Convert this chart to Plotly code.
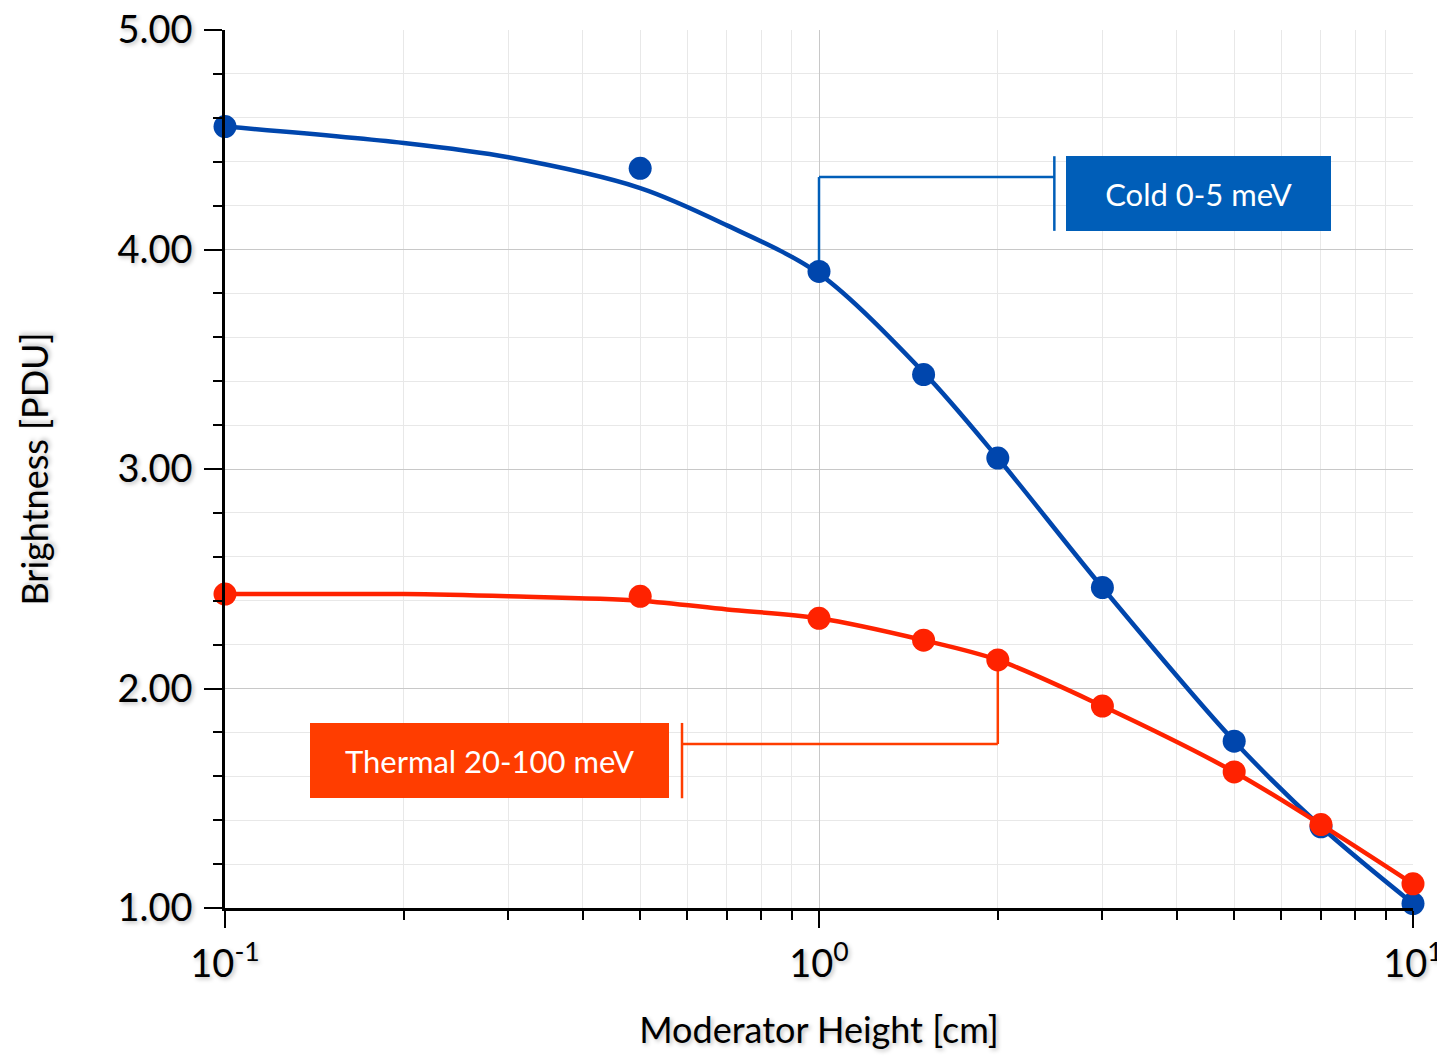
import plotly.graph_objects as go

# ---- data ----
HEIGHT_CM = [0.1, 0.5, 1, 1.5, 2, 3, 5, 7, 10]
COLD = [4.56, 4.37, 3.90, 3.43, 3.05, 2.46, 1.76, 1.37, 1.02]
THERMAL = [2.43, 2.42, 2.32, 2.22, 2.13, 1.92, 1.62, 1.38, 1.11]

# fitted curves
FIT_X = [0.1, 0.2, 0.3, 0.5, 0.7, 1, 1.5, 2, 3, 5, 7, 10]
COLD_FIT = [4.56, 4.485, 4.42, 4.28, 4.11, 3.89, 3.44, 3.05, 2.46, 1.76, 1.37, 1.02]
THERMAL_FIT = [2.43, 2.43, 2.42, 2.40, 2.36, 2.32, 2.22, 2.13, 1.92, 1.62, 1.38, 1.11]

X_TICKS = [0.1, 1, 10]
X_TICK_LABELS = ["10<sup>-1</sup>", "10<sup>0</sup>", "10<sup>1</sup>"]
X_MINOR = [0.2, 0.3, 0.4, 0.5, 0.6, 0.7, 0.8, 0.9, 2, 3, 4, 5, 6, 7, 8, 9]

COLD_LABEL = "Cold 0-5 meV"
THERMAL_LABEL = "Thermal 20-100 meV"

BLUE = "#0046AD"
BLUE_BOX = "#005EB8"
RED = "#FF2200"
RED_BOX = "#FF3D00"
FONT = "Lato, 'Open Sans', sans-serif"
SHADOW = "2px 2px 4px rgba(0,0,0,0.25)"

fig = go.Figure()

fig.add_trace(go.Scatter(x=FIT_X, y=COLD_FIT, mode="lines",
                         line=dict(color=BLUE, width=4.5, shape="spline", smoothing=0.9),
                         hoverinfo="skip", showlegend=False, cliponaxis=False))
fig.add_trace(go.Scatter(x=HEIGHT_CM, y=COLD, mode="markers", name=COLD_LABEL,
                         marker=dict(color=BLUE, size=23), showlegend=False, cliponaxis=False))
fig.add_trace(go.Scatter(x=FIT_X, y=THERMAL_FIT, mode="lines",
                         line=dict(color=RED, width=4.5, shape="spline", smoothing=0.9),
                         hoverinfo="skip", showlegend=False, cliponaxis=False))
fig.add_trace(go.Scatter(x=HEIGHT_CM, y=THERMAL, mode="markers", name=THERMAL_LABEL,
                         marker=dict(color=RED, size=23), showlegend=False, cliponaxis=False))

# connector lines (data coordinates)
cold_anchor_x, cold_anchor_y = HEIGHT_CM[2], COLD[2]
th_anchor_x, th_anchor_y = HEIGHT_CM[4], THERMAL[4]
shapes = [
    dict(type="line", xref="x", yref="y", x0=cold_anchor_x, x1=cold_anchor_x,
         y0=cold_anchor_y, y1=4.33, line=dict(color=BLUE_BOX, width=2.5), layer="between"),
    dict(type="line", xref="x", yref="y", x0=cold_anchor_x, x1=2.49,
         y0=4.33, y1=4.33, line=dict(color=BLUE_BOX, width=2.5), layer="between"),
    dict(type="line", xref="x", yref="y", x0=2.49, x1=2.49,
         y0=4.085, y1=4.425, line=dict(color=BLUE_BOX, width=2.5), layer="between"),
    dict(type="line", xref="x", yref="y", x0=th_anchor_x, x1=th_anchor_x,
         y0=th_anchor_y, y1=1.747, line=dict(color=RED_BOX, width=2.5), layer="between"),
    dict(type="line", xref="x", yref="y", x0=th_anchor_x, x1=0.588,
         y0=1.747, y1=1.747, line=dict(color=RED_BOX, width=2.5), layer="between"),
    dict(type="line", xref="x", yref="y", x0=0.588, x1=0.588,
         y0=1.50, y1=1.843, line=dict(color=RED_BOX, width=2.5), layer="between"),
]

annotations = [
    dict(text=COLD_LABEL, xref="paper", yref="paper", x=0.8194, y=0.8138,
         xanchor="center", yanchor="middle", showarrow=False,
         width=265, height=75, bgcolor=BLUE_BOX, borderpad=0, borderwidth=0,
         font=dict(family=FONT, size=31, color="white")),
    dict(text=THERMAL_LABEL, xref="paper", yref="paper", x=0.2226, y=0.168,
         xanchor="center", yanchor="middle", showarrow=False,
         width=359, height=75, bgcolor=RED_BOX, borderpad=0, borderwidth=0,
         font=dict(family=FONT, size=31, color="white")),
]

fig.update_layout(
    width=1437, height=1048,
    margin=dict(l=217, r=32, t=22, b=148, autoexpand=False),
    paper_bgcolor="white", plot_bgcolor="white",
    font=dict(family=FONT, color="black"),
    shapes=shapes, annotations=annotations,
    showlegend=False,
)

fig.update_xaxes(
    type="log", range=[-1, 1], automargin=False,
    tickmode="array", tickvals=X_TICKS, ticktext=X_TICK_LABELS,
    ticks="outside", ticklen=17, tickwidth=2, tickcolor="black",
    showline=True, linecolor="black", linewidth=2.5,
    showgrid=True, gridcolor="#c8c8c8", gridwidth=1,
    tickfont=dict(family=FONT, size=38, color="black", shadow=SHADOW),
    ticklabelstandoff=4, ticklabeloverflow="allow",
    minor=dict(tickmode="array", tickvals=X_MINOR, ticks="outside", ticklen=9,
               tickwidth=2, tickcolor="black", showgrid=True, gridcolor="#e8e8e8", gridwidth=1),
    title=dict(text="Moderator Height [cm]", standoff=34,
               font=dict(family=FONT, size=36, color="black", shadow=SHADOW)),
    zeroline=False,
)

fig.update_yaxes(
    range=[1, 5], automargin=False,
    tickmode="linear", tick0=1, dtick=1, tickformat=".2f",
    ticks="outside", ticklen=18, tickwidth=2, tickcolor="black",
    showline=True, linecolor="black", linewidth=2.5,
    showgrid=True, gridcolor="#c8c8c8", gridwidth=1,
    tickfont=dict(family=FONT, size=38, color="black", shadow=SHADOW),
    ticklabelstandoff=4, ticklabeloverflow="allow",
    minor=dict(tickmode="linear", tick0=1, dtick=0.2, ticks="outside", ticklen=9,
               tickwidth=2, tickcolor="black", showgrid=True, gridcolor="#e8e8e8", gridwidth=1),
    title=dict(text="Brightness [PDU]", standoff=58,
               font=dict(family=FONT, size=36, color="black", shadow=SHADOW)),
    zeroline=False,
)

fig.write_html("out.html")
